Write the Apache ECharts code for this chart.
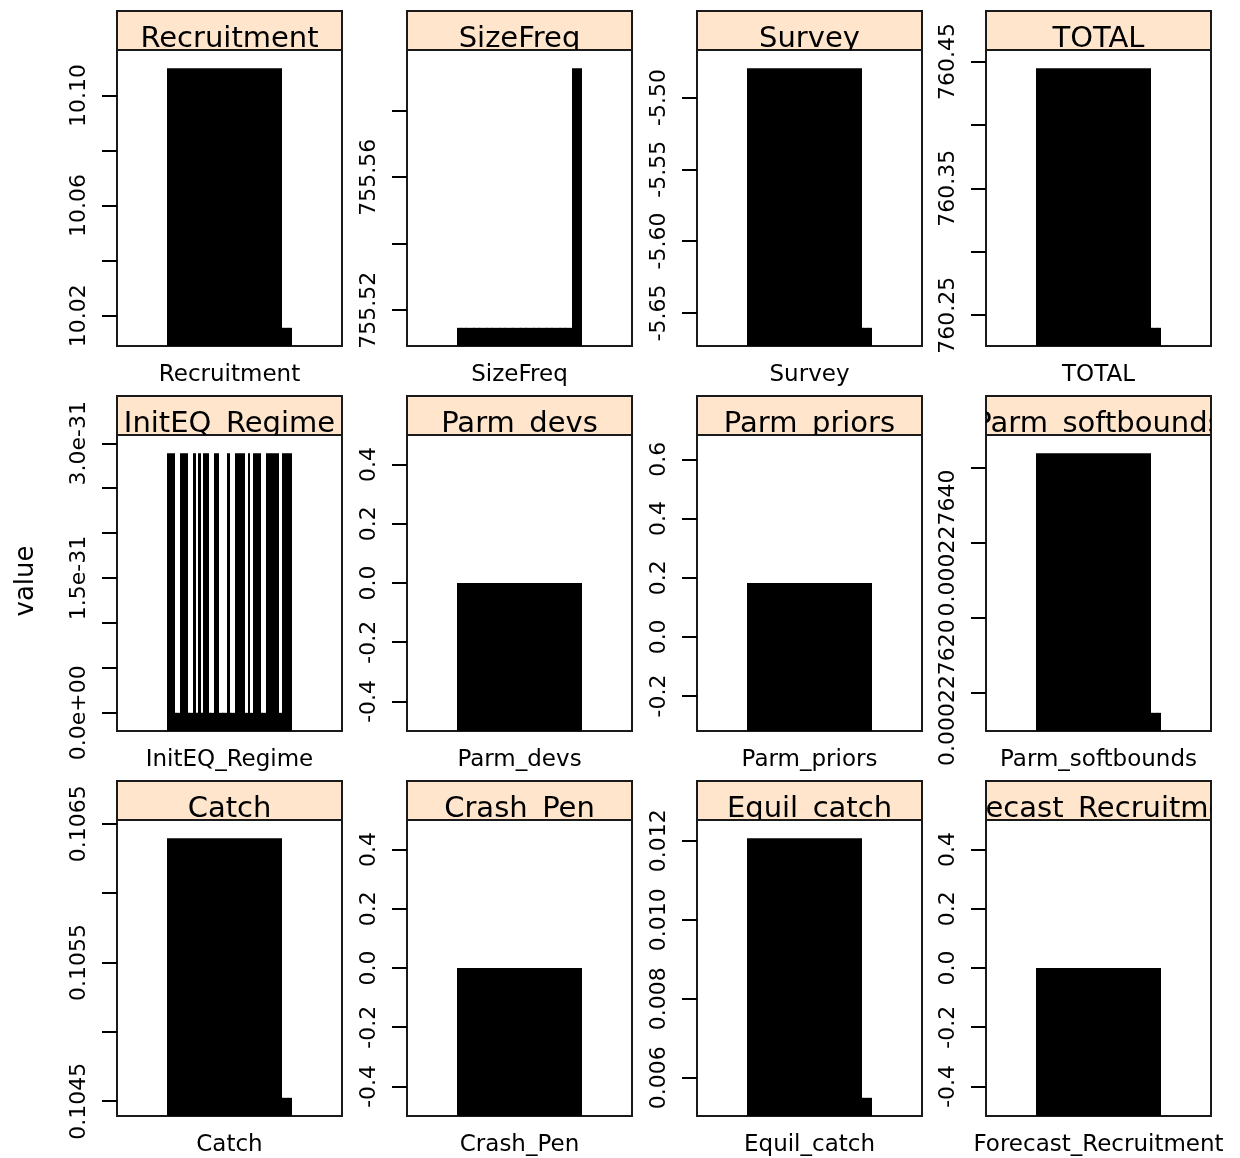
<!DOCTYPE html>
<html><head><meta charset="utf-8">
<script src="https://cdn.jsdelivr.net/npm/echarts@6/dist/echarts.min.js"></script>
<style>html,body{margin:0;padding:0;background:#fff}#chart{width:1240px;height:1158px}</style>
</head><body><div id="chart"></div>
<script>
// ---- DATA ----
const panelNames = ['Recruitment','SizeFreq','Survey','TOTAL','InitEQ_Regime','Parm_devs','Parm_priors','Parm_softbounds','Catch','Crash_Pen','Equil_catch','Forecast_Recruitment'];

const recruitmentValues = [
 10.1099,10.1099,10.1099,10.1099,10.1099,10.1099,10.1099,10.1099,10.1099,10.1099,10.1099,10.1099,
 10.1099,10.1099,10.1099,10.1099,10.1099,10.1099,10.1099,10.1099,10.1099,10.1099,10.1099,10.1099,
 10.1099,10.1099,10.1099,10.1099,10.1099,10.1099,10.1099,10.1099,10.1099,10.1099,10.1099,10.1099,
 10.1099,10.1099,10.1099,10.1099,10.1099,10.1099,10.1099,10.1099,10.0156,10.0156,10.0156,10.0156];
const sizeFreqValues = [
 755.5147,755.5147,755.5147,755.5147,755.5147,755.5147,755.5147,755.5147,755.5147,755.5147,755.5147,755.5147,
 755.5147,755.5147,755.5147,755.5147,755.5147,755.5147,755.5147,755.5147,755.5147,755.5147,755.5147,755.5147,
 755.5147,755.5147,755.5147,755.5147,755.5147,755.5147,755.5147,755.5147,755.5147,755.5147,755.5147,755.5147,
 755.5147,755.5147,755.5147,755.5147,755.5147,755.5147,755.5147,755.5147,755.5928,755.5928,755.5928,755.5928];
const surveyValues = [
 -5.4796,-5.4796,-5.4796,-5.4796,-5.4796,-5.4796,-5.4796,-5.4796,-5.4796,-5.4796,-5.4796,-5.4796,
 -5.4796,-5.4796,-5.4796,-5.4796,-5.4796,-5.4796,-5.4796,-5.4796,-5.4796,-5.4796,-5.4796,-5.4796,
 -5.4796,-5.4796,-5.4796,-5.4796,-5.4796,-5.4796,-5.4796,-5.4796,-5.4796,-5.4796,-5.4796,-5.4796,
 -5.4796,-5.4796,-5.4796,-5.4796,-5.4796,-5.4796,-5.4796,-5.4796,-5.6604,-5.6604,-5.6604,-5.6604];
const totalValues = [
 760.4447,760.4447,760.4447,760.4447,760.4447,760.4447,760.4447,760.4447,760.4447,760.4447,760.4447,760.4447,
 760.4447,760.4447,760.4447,760.4447,760.4447,760.4447,760.4447,760.4447,760.4447,760.4447,760.4447,760.4447,
 760.4447,760.4447,760.4447,760.4447,760.4447,760.4447,760.4447,760.4447,760.4447,760.4447,760.4447,760.4447,
 760.4447,760.4447,760.4447,760.4447,760.4447,760.4447,760.4447,760.4447,760.2400,760.2400,760.2400,760.2400];
// InitEQ_Regime values in units of 1e-31
const initEQRegimeValues = [
 2.89,2.89,2.89,0,0,2.89,2.89,2.89,0,0,2.89,0,
 2.89,0,2.89,2.89,0,0,2.89,2.89,0,0,0,2.89,
 0,0,2.89,2.89,2.89,2.89,0,2.89,0,2.89,2.89,2.89,
 0,0,2.89,2.89,2.89,2.89,2.89,0,2.89,2.89,2.89,2.89];
const parmDevsValues = [
 0,0,0,0,0,0,0,0,0,0,0,0, 0,0,0,0,0,0,0,0,0,0,0,0,
 0,0,0,0,0,0,0,0,0,0,0,0, 0,0,0,0,0,0,0,0,0,0,0,0];
const parmPriorsValues = [
 0.182,0.182,0.182,0.182,0.182,0.182,0.182,0.182,0.182,0.182,0.182,0.182,
 0.182,0.182,0.182,0.182,0.182,0.182,0.182,0.182,0.182,0.182,0.182,0.182,
 0.182,0.182,0.182,0.182,0.182,0.182,0.182,0.182,0.182,0.182,0.182,0.182,
 0.182,0.182,0.182,0.182,0.182,0.182,0.182,0.182,0.182,0.182,0.182,0.182];
const parmSoftboundsValues = [
 0.000227652,0.000227652,0.000227652,0.000227652,0.000227652,0.000227652,0.000227652,0.000227652,0.000227652,0.000227652,0.000227652,0.000227652,
 0.000227652,0.000227652,0.000227652,0.000227652,0.000227652,0.000227652,0.000227652,0.000227652,0.000227652,0.000227652,0.000227652,0.000227652,
 0.000227652,0.000227652,0.000227652,0.000227652,0.000227652,0.000227652,0.000227652,0.000227652,0.000227652,0.000227652,0.000227652,0.000227652,
 0.000227652,0.000227652,0.000227652,0.000227652,0.000227652,0.000227652,0.000227652,0.000227652,0.0002276173,0.0002276173,0.0002276173,0.0002276173];
const catchValues = [
 0.106396,0.106396,0.106396,0.106396,0.106396,0.106396,0.106396,0.106396,0.106396,0.106396,0.106396,0.106396,
 0.106396,0.106396,0.106396,0.106396,0.106396,0.106396,0.106396,0.106396,0.106396,0.106396,0.106396,0.106396,
 0.106396,0.106396,0.106396,0.106396,0.106396,0.106396,0.106396,0.106396,0.106396,0.106396,0.106396,0.106396,
 0.106396,0.106396,0.106396,0.106396,0.106396,0.106396,0.106396,0.106396,0.104524,0.104524,0.104524,0.104524];
const crashPenValues = [
 0,0,0,0,0,0,0,0,0,0,0,0, 0,0,0,0,0,0,0,0,0,0,0,0,
 0,0,0,0,0,0,0,0,0,0,0,0, 0,0,0,0,0,0,0,0,0,0,0,0];
const equilCatchValues = [
 0.012066,0.012066,0.012066,0.012066,0.012066,0.012066,0.012066,0.012066,0.012066,0.012066,0.012066,0.012066,
 0.012066,0.012066,0.012066,0.012066,0.012066,0.012066,0.012066,0.012066,0.012066,0.012066,0.012066,0.012066,
 0.012066,0.012066,0.012066,0.012066,0.012066,0.012066,0.012066,0.012066,0.012066,0.012066,0.012066,0.012066,
 0.012066,0.012066,0.012066,0.012066,0.012066,0.012066,0.012066,0.012066,0.005493,0.005493,0.005493,0.005493];
const forecastRecruitmentValues = [
 0,0,0,0,0,0,0,0,0,0,0,0, 0,0,0,0,0,0,0,0,0,0,0,0,
 0,0,0,0,0,0,0,0,0,0,0,0, 0,0,0,0,0,0,0,0,0,0,0,0];

const panelValues = [recruitmentValues, sizeFreqValues, surveyValues, totalValues,
  initEQRegimeValues, parmDevsValues, parmPriorsValues, parmSoftboundsValues,
  catchValues, crashPenValues, equilCatchValues, forecastRecruitmentValues];

// tick marks and labelled ticks per panel
const tickValues = [
  [10.02,10.04,10.06,10.08,10.10],
  [755.52,755.54,755.56,755.58],
  [-5.65,-5.60,-5.55,-5.50],
  [760.25,760.30,760.35,760.40,760.45],
  [0,0.5,1.0,1.5,2.0,2.5,3.0],
  [-0.4,-0.2,0,0.2,0.4],
  [-0.2,0,0.2,0.4,0.6],
  [0.00022762,0.00022763,0.00022764,0.00022765],
  [0.1045,0.1050,0.1055,0.1060,0.1065],
  [-0.4,-0.2,0,0.2,0.4],
  [0.006,0.008,0.010,0.012],
  [-0.4,-0.2,0,0.2,0.4]];
const labelValues = [
  [10.02,10.06,10.10],
  [755.52,755.56],
  [-5.65,-5.60,-5.55,-5.50],
  [760.25,760.35,760.45],
  [0,1.5,3.0],
  [-0.4,-0.2,0,0.2,0.4],
  [-0.2,0,0.2,0.4,0.6],
  [0.00022762,0.00022764],
  [0.1045,0.1055,0.1065],
  [-0.4,-0.2,0,0.2,0.4],
  [0.006,0.008,0.010,0.012],
  [-0.4,-0.2,0,0.2,0.4]];
const labelFormats = ['f2','f2','f2','f2','e31','f1','f1','f9','f4','f1','f3','f1'];

// ---- LAYOUT ----
const colLeft = [117, 407, 697, 986];
const panelWidth = 225;
const rowTop = [50, 435, 820];
const panelHeight = 296;
const stripHeight = 39;
const FONT = '"DejaVu Sans", Verdana, sans-serif';
const nBars = 48;
const groupWidth = 2 / 3;            // barchart box.ratio = 2
const xMin = 0.4, xMax = 1.6;        // one factor level at x = 1

function fmt(kind, v) {
  if (kind === 'e31') return v === 0 ? '0.0e+00' : v.toFixed(1) + 'e-31';
  return v.toFixed(parseInt(kind.slice(1), 10));
}
function rangeOf(vals) {
  const lo = Math.min.apply(null, vals), hi = Math.max.apply(null, vals);
  if (hi === lo) return [lo - 0.5, hi + 0.5];
  const e = 0.07 * (hi - lo);
  return [lo - e, hi + e];
}

const grids = [], xAxes = [], yAxes = [], series = [];
panelNames.forEach((name, k) => {
  const r = Math.floor(k / 4), c = k % 4;
  const left = colLeft[c], top = rowTop[r];
  const vals = panelValues[k];
  const rng = rangeOf(vals);
  const kind = labelFormats[k];
  grids.push({left: left, top: top, width: panelWidth, height: panelHeight, show: true,
    backgroundColor: '#fff', borderColor: '#1a1a1a', borderWidth: 2, outerBoundsMode: 'none'});
  xAxes.push({type: 'value', gridIndex: k, min: xMin, max: xMax,
    axisLine: {show: false}, axisTick: {show: false}, splitLine: {show: false},
    axisLabel: {customValues: [1], formatter: () => name, margin: 18,
      fontSize: 23, fontFamily: FONT, color: '#000'}});
  yAxes.push({type: 'value', gridIndex: k, min: rng[0], max: rng[1],
    axisLine: {show: false}, splitLine: {show: false},
    axisTick: {show: true, customValues: tickValues[k], length: 15, inside: false,
      lineStyle: {color: '#000', width: 2}},
    axisLabel: {customValues: labelValues[k], rotate: 90, margin: 27, fontSize: 22,
      fontFamily: FONT, color: '#000', hideOverlap: false,
      formatter: (v) => fmt(kind, v)}});
  const yBottom = rng[0];
  series.push({type: 'custom', xAxisIndex: k, yAxisIndex: k, clip: true, silent: true,
    data: vals.map((v, i) => [i, v]),
    renderItem: (params, api) => {
      const i = api.value(0), v = api.value(1);
      const w = groupWidth / nBars;
      const x0 = 1 - groupWidth / 2 + i * w;
      const p0 = api.coord([x0, v]);
      const p1 = api.coord([x0 + w, yBottom]);
      const xl = Math.round(p0[0]), xr = Math.round(p1[0]);
      return {type: 'rect',
        shape: {x: xl, y: p0[1], width: xr - xl, height: p1[1] - p0[1]},
        style: {fill: '#000'}};
    }});
});
// strips
panelNames.forEach((name, k) => {
  const r = Math.floor(k / 4), c = k % 4;
  const gi = 12 + k;
  grids.push({left: colLeft[c], top: rowTop[r] - stripHeight, width: panelWidth, height: stripHeight,
    show: true, backgroundColor: '#FFE5CC', borderColor: '#1a1a1a', borderWidth: 2, outerBoundsMode: 'none'});
  xAxes.push({type: 'value', gridIndex: gi, min: 0, max: 1, show: false});
  yAxes.push({type: 'value', gridIndex: gi, min: 0, max: 1, show: false});
  series.push({type: 'custom', xAxisIndex: gi, yAxisIndex: gi, clip: true, silent: true,
    data: [[0.5, 0]],
    renderItem: (params, api) => {
      const p = api.coord([0.5, 0]);
      return {type: 'text', x: p[0], y: p[1] - 11,
        style: {text: name, fill: '#000', font: '29px ' + FONT, align: 'center', verticalAlign: 'middle'}};
    }});
});

const chart = echarts.init(document.getElementById('chart'), null, {renderer: 'canvas'});
chart.setOption({
  animation: false,
  backgroundColor: '#fff',
  grid: grids, xAxis: xAxes, yAxis: yAxes, series: series,
  graphic: [{type: 'text', x: 26, y: 581, rotation: Math.PI / 2,
    style: {text: 'value', fill: '#000', font: '26px ' + FONT, align: 'center', verticalAlign: 'middle'}}]
});
</script></body></html>
